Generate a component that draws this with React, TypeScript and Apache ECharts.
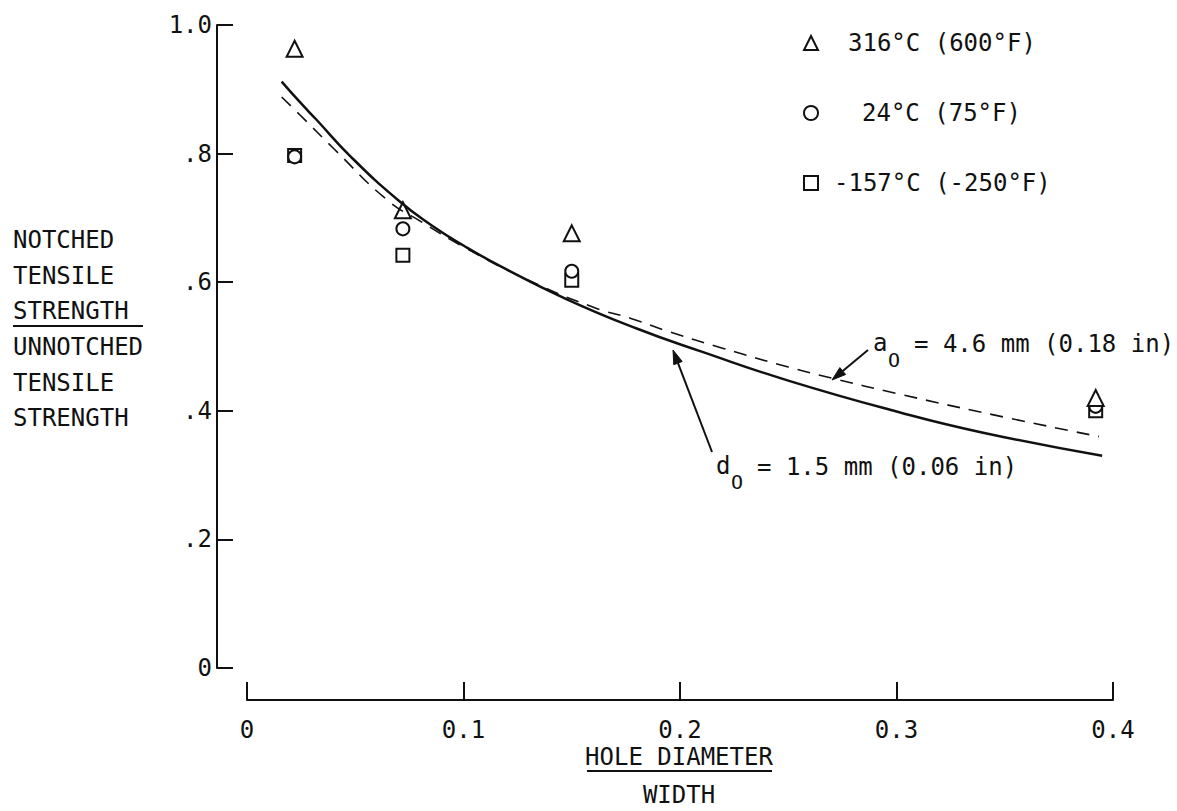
import React, { useEffect, useRef } from "react";
import * as echarts from "echarts";

const FONT = '"DejaVu Sans Mono", monospace';
const INK = "#111111";
const FS = 24;

// axis ticks
const xTickValues = [0, 0.1, 0.2, 0.3, 0.4];
const xTickLabels = ["0", "0.1", "0.2", "0.3", "0.4"];
const yTickValues = [0, 0.2, 0.4, 0.6, 0.8, 1.0];
const yTickLabels = ["0", ".2", ".4", ".6", ".8", "1.0"];

// measured points (hole diameter / width)
const groupX = [0.022, 0.072, 0.15, 0.392];
const hotY = [0.963, 0.712, 0.676, 0.42];
const roomY = [0.795, 0.683, 0.617, 0.407];
const coldY = [0.797, 0.642, 0.603, 0.4];

const seriesNames = ["316°C (600°F)", "24°C (75°F)", "-157°C (-250°F)"];

// curve d0 = 1.5 mm (solid)
const solidX = [0.016, 0.025, 0.032, 0.048, 0.07, 0.085, 0.1, 0.117, 0.148, 0.18, 0.21, 0.25, 0.3, 0.34, 0.395];
const solidY = [0.912, 0.878, 0.853, 0.795, 0.727, 0.689, 0.657, 0.625, 0.573, 0.528, 0.492, 0.447, 0.399, 0.366, 0.33];

// curve a0 = 4.6 mm (dashed)
const dashX = [0.016, 0.0245, 0.04, 0.0647, 0.08, 0.1, 0.13, 0.16, 0.177, 0.195, 0.22, 0.25, 0.27, 0.3, 0.35, 0.3935];
const dashY = [0.888, 0.86, 0.808, 0.728, 0.695, 0.655, 0.603, 0.561, 0.544, 0.523, 0.497, 0.468, 0.451, 0.427, 0.39, 0.36];

const zip = (xs: number[], ys: number[]) => xs.map((x, i) => [x, ys[i]]);

function labelFor(values: number[], labels: string[], v: number) {
  const i = values.findIndex((t) => Math.abs(t - v) < 1e-6);
  return i >= 0 ? labels[i] : "";
}

function arrow(x1: number, y1: number, x2: number, y2: number) {
  const dx = x2 - x1, dy = y2 - y1;
  const len = Math.hypot(dx, dy);
  const ux = dx / len, uy = dy / len;
  const hl = 14, hw = 4.5;
  const bx = x2 - ux * hl, by = y2 - uy * hl;
  const px = -uy * hw, py = ux * hw;
  return [
    { type: "line", shape: { x1, y1, x2: bx, y2: by }, style: { stroke: INK, lineWidth: 2 } },
    {
      type: "polygon",
      shape: { points: [[x2, y2], [bx + px, by + py], [bx - px, by - py]] },
      style: { fill: INK, stroke: INK, lineWidth: 1 },
    },
  ];
}

function txt(text: string, x: number, y: number, opts: any = {}) {
  return {
    type: "text",
    style: {
      text,
      x,
      y,
      font: `${opts.size || FS}px ${FONT}`,
      fill: INK,
      align: opts.align || "left",
      verticalAlign: "middle",
    },
  };
}

export default function App() {
  const ref = useRef<HTMLDivElement>(null);

  useEffect(() => {
    if (!ref.current) return;
    const chart = echarts.init(ref.current, null, { renderer: "svg" });

    const yNameLines = ["NOTCHED", "TENSILE", "STRENGTH", "UNNOTCHED", "TENSILE", "STRENGTH"];
    const yNameY = [240, 276, 311, 347, 383, 418];

    const graphic: any[] = [
      ...yNameLines.map((t, i) => txt(t, 13, yNameY[i])),
      { type: "line", shape: { x1: 13, y1: 326, x2: 143, y2: 326 }, style: { stroke: INK, lineWidth: 2 } },
      txt("HOLE DIAMETER", 679, 757, { align: "center" }),
      { type: "line", shape: { x1: 587, y1: 771, x2: 772, y2: 771 }, style: { stroke: INK, lineWidth: 2 } },
      txt("WIDTH", 679, 795, { align: "center" }),
      // d0 annotation
      txt("d", 716, 466),
      txt("O", 731, 482, { size: 20 }),
      txt("= 1.5 mm (0.06 in)", 757, 467),
      ...arrow(712, 452, 673, 350),
      // a0 annotation
      txt("a", 873, 343),
      txt("O", 888, 360, { size: 20 }),
      txt("= 4.6 mm (0.18 in)", 914, 344),
      ...arrow(868, 350, 832, 380),
    ];

    const markerStyle = { color: "#ffffff", borderColor: INK, borderWidth: 2, opacity: 1 };

    chart.setOption({
      animation: false,
      backgroundColor: "#ffffff",
      textStyle: { fontFamily: FONT, color: INK },
      grid: { left: 247, right: 64, top: 25, bottom: 143 },
      legend: {
        orient: "vertical",
        left: 798,
        top: 26,
        itemWidth: 14,
        itemHeight: 14,
        itemGap: 46,
        itemStyle: { color: "#ffffff", borderColor: INK, borderWidth: 2, opacity: 1 },
        textStyle: { fontFamily: FONT, fontSize: FS, color: INK },
        data: [
          { name: seriesNames[0], textStyle: { padding: [0, 0, 0, 25] } },
          { name: seriesNames[1], textStyle: { padding: [0, 0, 0, 39] } },
          { name: seriesNames[2], textStyle: { padding: [0, 0, 0, 11] } },
        ],
        selectedMode: false,
      },
      xAxis: {
        type: "value",
        min: 0,
        max: 0.4,
        interval: 0.1,
        offset: 32,
        axisLine: { show: true, onZero: false, lineStyle: { color: INK, width: 2 } },
        axisTick: { show: true, inside: true, length: 18, lineStyle: { color: INK, width: 2 } },
        axisLabel: {
          margin: 18,
          fontFamily: FONT,
          fontSize: FS,
          color: INK,
          formatter: (v: number) => labelFor(xTickValues, xTickLabels, v),
        },
        splitLine: { show: false },
      },
      yAxis: {
        type: "value",
        min: 0,
        max: 1.0,
        interval: 0.2,
        offset: 30,
        axisLine: { show: true, onZero: false, lineStyle: { color: INK, width: 2 } },
        axisTick: { show: true, inside: true, length: 16, lineStyle: { color: INK, width: 2 } },
        axisLabel: {
          margin: 5,
          fontFamily: FONT,
          fontSize: FS,
          color: INK,
          formatter: (v: number) => labelFor(yTickValues, yTickLabels, v),
        },
        splitLine: { show: false },
      },
      series: [
        {
          name: "solid",
          type: "line",
          data: zip(solidX, solidY),
          smooth: true,
          showSymbol: false,
          lineStyle: { color: INK, width: 2.5 },
          silent: true,
        },
        {
          name: "dashed",
          type: "line",
          data: zip(dashX, dashY),
          smooth: true,
          showSymbol: false,
          lineStyle: { color: INK, width: 1.6, type: [13, 9] },
          silent: true,
        },
        {
          name: seriesNames[2],
          type: "scatter",
          data: zip(groupX, coldY),
          symbol: "rect",
          symbolSize: 13,
          itemStyle: markerStyle,
        },
        {
          name: seriesNames[1],
          type: "scatter",
          data: zip(groupX, roomY),
          symbol: "circle",
          symbolSize: 13,
          itemStyle: markerStyle,
        },
        {
          name: seriesNames[0],
          type: "scatter",
          data: zip(groupX, hotY),
          symbol: "triangle",
          symbolSize: 16,
          itemStyle: markerStyle,
        },
      ],
      graphic,
    });

    return () => chart.dispose();
  }, []);

  return (
    <div
      ref={ref}
      style={{ position: "fixed", left: 0, top: 0, width: 1177, height: 811, background: "#fff" }}
    />
  );
}
